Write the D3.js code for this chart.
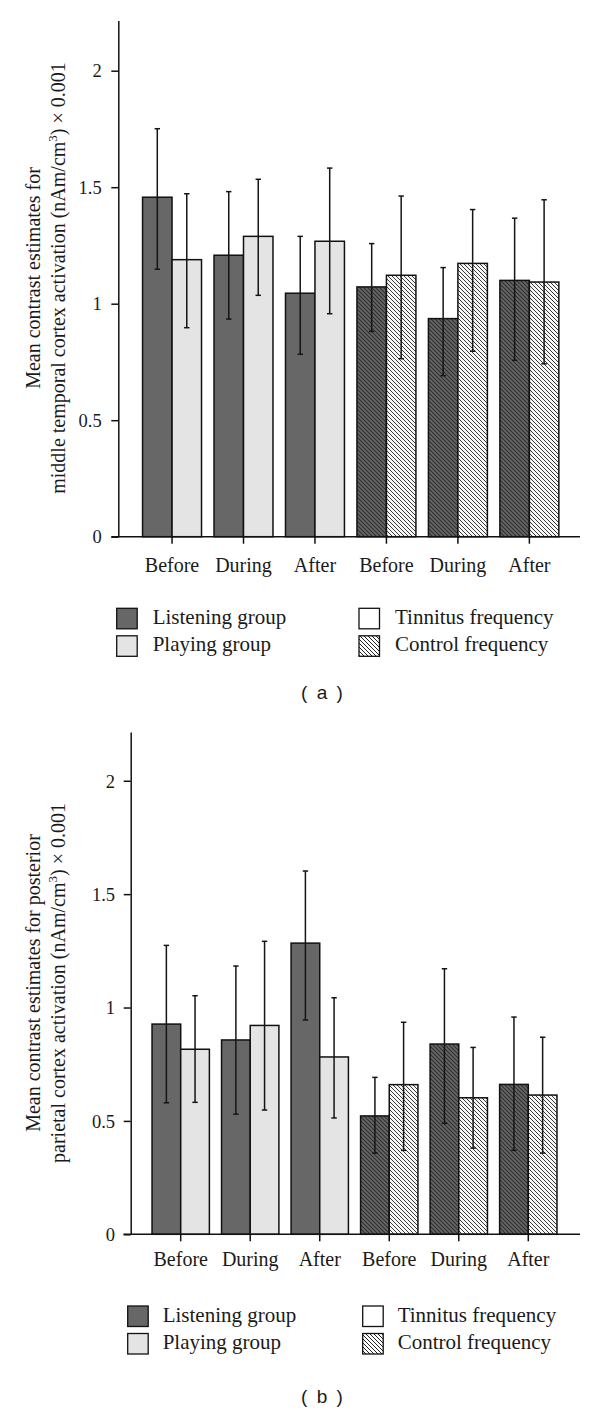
<!DOCTYPE html>
<html>
<head>
<meta charset="utf-8">
<script src="https://cdn.jsdelivr.net/npm/d3@7"></script>
<style>
  html, body { margin: 0; padding: 0; background: #fff; }
  svg { display: block; }
  text { font-family: "Liberation Serif", "Times New Roman", serif; fill: #1a1a1a; }
  .panel-label { font-family: "Liberation Sans", Arial, sans-serif; }
</style>
</head>
<body>
<svg id="chart" width="600" height="1411"></svg>
<script>
// ---------- data ----------
const categories = ["Before", "During", "After", "Before", "During", "After"];
const frequency = ["tinnitus", "tinnitus", "tinnitus", "control", "control", "control"];
const seriesNames = ["Listening group", "Playing group"];
const frequencyNames = ["Tinnitus frequency", "Control frequency"];
const yTicks = [0, 0.5, 1, 1.5, 2];

// panel (a): middle temporal cortex
const aListening   = [1.457, 1.208, 1.045, 1.072, 0.936, 1.100];
const aListeningHi = [1.751, 1.481, 1.289, 1.258, 1.155, 1.367];
const aListeningLo = [1.148, 0.934, 0.783, 0.881, 0.691, 0.757];
const aPlaying     = [1.189, 1.289, 1.268, 1.122, 1.173, 1.093];
const aPlayingHi   = [1.472, 1.534, 1.582, 1.462, 1.404, 1.446];
const aPlayingLo   = [0.897, 1.036, 0.957, 0.764, 0.796, 0.742];

// panel (b): posterior parietal cortex
const bListening   = [0.927, 0.857, 1.284, 0.522, 0.839, 0.661];
const bListeningHi = [1.274, 1.183, 1.602, 0.692, 1.171, 0.958];
const bListeningLo = [0.580, 0.530, 0.945, 0.358, 0.489, 0.370];
const bPlaying     = [0.816, 0.921, 0.782, 0.660, 0.602, 0.614];
const bPlayingHi   = [1.052, 1.292, 1.043, 0.935, 0.824, 0.869];
const bPlayingLo   = [0.582, 0.548, 0.513, 0.370, 0.380, 0.358];

// ---------- drawing ----------
const svg = d3.select("#chart");
const defs = svg.append("defs");

const colListen = "#676767";
const colPlay = "#e4e4e4";

function hatch(id, bg, line, w) {
  const p = defs.append("pattern").attr("id", id)
    .attr("patternUnits", "userSpaceOnUse").attr("width", 4).attr("height", 4);
  p.append("rect").attr("width", 4).attr("height", 4).attr("fill", bg);
  p.append("path").attr("d", "M-1,-1 L5,5 M-1,3 L1,5 M3,-1 L5,1")
    .attr("stroke", line).attr("stroke-width", w).attr("fill", "none");
}
hatch("hatchDark", colListen, "#2e2e2e", 1.1);
hatch("hatchLight", "#f7f7f7", "#3a3a3a", 1.0);
hatch("hatchLegend", "#ffffff", "#222", 1.0);

const panels = [
  {
    listening: aListening, listeningHi: aListeningHi, listeningLo: aListeningLo,
    playing: aPlaying, playingHi: aPlayingHi, playingLo: aPlayingLo,
    axisX: 118.3, y0: 536.7, yTop: 20.6, xRange: [136.3, 565.1],
    xLineStart: 111.3, xLineEnd: 580, xLabelDy: 35.6, yLabelGap: 16.6,
    titleLines: ["Mean contrast estimates for", "middle temporal cortex activation (nAm/cm"],
    titleCenter: 278,
    legendY: 608.3, legendLeftX: 116.7, legendRightX: 359, legendTextDx: 36,
    label: "( a )", labelY: 699
  },
  {
    listening: bListening, listeningHi: bListeningHi, listeningLo: bListeningLo,
    playing: bPlaying, playingHi: bPlayingHi, playingLo: bPlayingLo,
    axisX: 130.7, y0: 1234.3, yTop: 732.0, xRange: [145.95, 563.05],
    xLineStart: 123.5, xLineEnd: 580, xLabelDy: 31.4, yLabelGap: 15.7,
    titleLines: ["Mean contrast estimates for posterior", "parietal cortex activation (nAm/cm"],
    titleCenter: 983,
    legendY: 1306, legendLeftX: 127.7, legendRightX: 362.7, legendTextDx: 35,
    label: "( b )", labelY: 1403
  }
];

panels.forEach(P => {
  const g = svg.append("g");
  const idx = d3.range(categories.length);
  const x0 = d3.scaleBand().domain(idx).range(P.xRange).paddingInner(0.175).paddingOuter(0.0875);
  const x1 = d3.scaleBand().domain(seriesNames).range([0, x0.bandwidth()]);
  const y = d3.scaleLinear().domain([0, 2.215]).range([P.y0, P.yTop]);

  const rows = [];
  idx.forEach(i => {
    rows.push({ i, s: seriesNames[0], v: P.listening[i], hi: P.listeningHi[i], lo: P.listeningLo[i], f: frequency[i] });
    rows.push({ i, s: seriesNames[1], v: P.playing[i], hi: P.playingHi[i], lo: P.playingLo[i], f: frequency[i] });
  });

  function fillOf(d) {
    if (d.f === "tinnitus") return d.s === seriesNames[0] ? colListen : colPlay;
    return d.s === seriesNames[0] ? "url(#hatchDark)" : "url(#hatchLight)";
  }

  // bars
  g.selectAll("rect.bar").data(rows).join("rect").attr("class", "bar")
    .attr("x", d => x0(d.i) + x1(d.s))
    .attr("y", d => y(d.v))
    .attr("width", x1.bandwidth())
    .attr("height", d => y(0) - y(d.v))
    .attr("fill", fillOf)
    .attr("stroke", "#111").attr("stroke-width", 1.5);

  // error bars
  const eb = g.selectAll("g.err").data(rows).join("g").attr("class", "err")
    .attr("stroke", "#151515").attr("stroke-width", 1.5);
  const cx = d => x0(d.i) + x1(d.s) + x1.bandwidth() / 2;
  eb.append("line").attr("x1", cx).attr("x2", cx).attr("y1", d => y(d.hi)).attr("y2", d => y(d.lo));
  eb.append("line").attr("x1", d => cx(d) - 2.7).attr("x2", d => cx(d) + 2.7).attr("y1", d => y(d.hi)).attr("y2", d => y(d.hi));
  eb.append("line").attr("x1", d => cx(d) - 2.7).attr("x2", d => cx(d) + 2.7).attr("y1", d => y(d.lo)).attr("y2", d => y(d.lo));

  // y axis
  const yAxis = g.append("g").attr("transform", `translate(${P.axisX},0)`)
    .call(d3.axisLeft(y).tickValues(yTicks).tickSize(7).tickSizeOuter(0).tickFormat(d3.format("")));
  yAxis.select(".domain").attr("stroke", "#111").attr("stroke-width", 1.5);
  yAxis.selectAll(".tick line").attr("stroke", "#111").attr("stroke-width", 1.5);
  yAxis.selectAll(".tick text").attr("x", -P.yLabelGap).attr("dy", "0.34em")
    .style("font-family", '"Liberation Serif", serif').style("font-size", "18.5px").attr("fill", "#1a1a1a");

  // x axis
  const xAxis = g.append("g").attr("transform", `translate(0,${P.y0})`)
    .call(d3.axisBottom(x0).tickSize(7).tickSizeOuter(0).tickFormat(i => categories[i]));
  xAxis.select(".domain").remove();
  xAxis.selectAll(".tick line").attr("stroke", "#111").attr("stroke-width", 1.5);
  xAxis.selectAll(".tick text").attr("y", P.xLabelDy).attr("dy", 0)
    .style("font-family", '"Liberation Serif", serif').style("font-size", "20px").attr("fill", "#1a1a1a");
  g.append("line").attr("x1", P.xLineStart).attr("x2", P.xLineEnd).attr("y1", P.y0).attr("y2", P.y0)
    .attr("stroke", "#111").attr("stroke-width", 1.5);

  // y title (two lines, rotated)
  const t1 = g.append("text").attr("transform", `translate(0,${P.titleCenter}) rotate(-90)`)
    .attr("text-anchor", "middle").style("font-size", "20px");
  t1.append("tspan").attr("x", 0).attr("y", 40).text(P.titleLines[0]);
  const t2 = g.append("text").attr("transform", `translate(0,${P.titleCenter}) rotate(-90)`)
    .attr("text-anchor", "middle").style("font-size", "20px");
  t2.append("tspan").attr("x", 0).attr("y", 65).text(P.titleLines[1]);
  t2.append("tspan").attr("dy", -8).style("font-size", "13px").text("3");
  t2.append("tspan").attr("dy", 8).text(") × 0.001");

  // legend
  const lg = g.append("g");
  const sq = 20.5, rowGap = 27.5;
  const legendItems = [
    { x: P.legendLeftX, y: P.legendY, fill: colListen, text: seriesNames[0] },
    { x: P.legendLeftX, y: P.legendY + rowGap, fill: colPlay, text: seriesNames[1] },
    { x: P.legendRightX, y: P.legendY, fill: "#ffffff", text: frequencyNames[0] },
    { x: P.legendRightX, y: P.legendY + rowGap, fill: "url(#hatchLegend)", text: frequencyNames[1] }
  ];
  lg.selectAll("rect").data(legendItems).join("rect")
    .attr("x", d => d.x).attr("y", d => d.y).attr("width", sq).attr("height", sq)
    .attr("fill", d => d.fill).attr("stroke", "#111").attr("stroke-width", 1.3);
  lg.selectAll("text").data(legendItems).join("text")
    .attr("x", d => d.x + P.legendTextDx).attr("y", d => d.y + 15.5)
    .style("font-size", "21px").text(d => d.text);

  // panel label
  g.append("text").attr("class", "panel-label").attr("x", 323).attr("y", P.labelY)
    .attr("text-anchor", "middle").style("font-size", "19px").style("letter-spacing", "2px")
    .attr("xml:space", "preserve").text(P.label);
});
</script>
</body>
</html>
